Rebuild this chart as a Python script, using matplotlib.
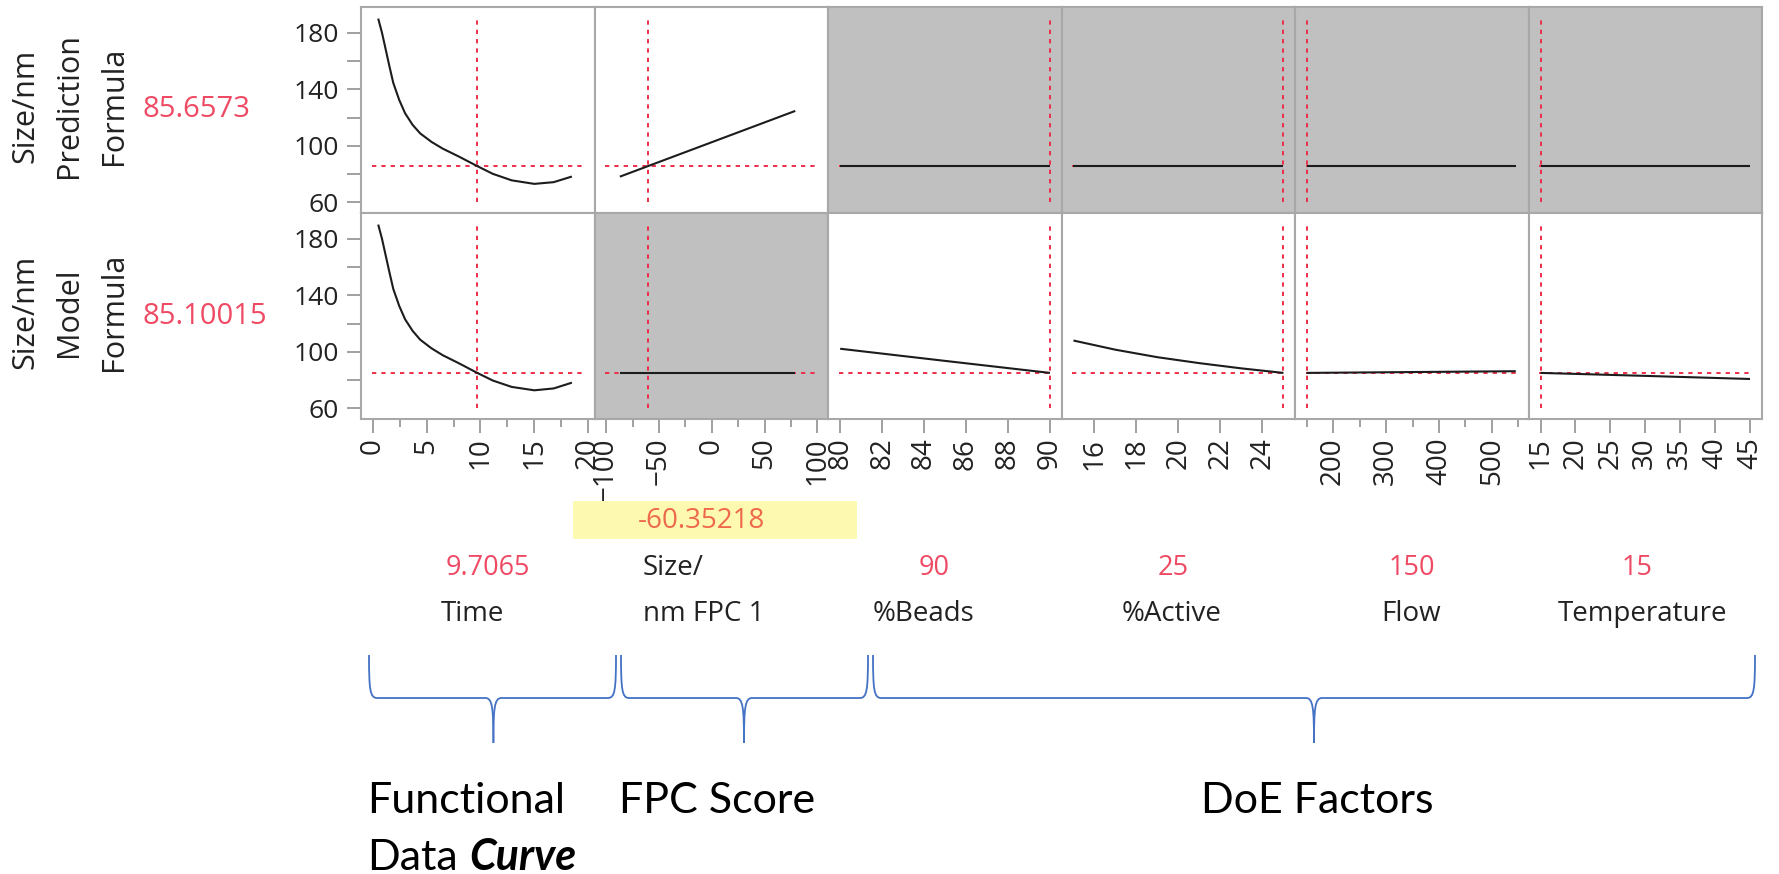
import matplotlib
matplotlib.use("Agg")
import matplotlib.pyplot as plt
from matplotlib.path import Path
from matplotlib.patches import PathPatch, Rectangle
from matplotlib.transforms import Affine2D

plt.rcParams["font.family"] = ["Open Sans", "DejaVu Sans"]

# ---------------- data ----------------
factor_names = ["Time", "Size/\nnm FPC 1", "%Beads", "%Active", "Flow", "Temperature"]
factor_current = [9.7065, -60.35218, 90, 25, 150, 15]
factor_current_text = ["9.7065", "-60.35218", "90", "25", "150", "15"]

response_names = ["Size/nm\nPrediction\nFormula", "Size/nm\nModel\nFormula"]
response_current = [85.6573, 85.10015]
response_current_text = ["85.6573", "85.10015"]

time_x = [0.5, 0.85, 1.2, 1.55, 1.9, 2.45, 3.0, 3.7, 4.4, 5.45, 6.5, 7.95,
          9.7065, 11.15, 12.9, 15.0, 16.8, 18.5]
time_pred = [190.0, 180.0, 168.0, 156.0, 144.5, 132.5, 123.0, 114.8, 108.8,
             102.8, 98.0, 92.6, 85.66, 80.2, 75.6, 73.1, 74.3, 78.3]
time_model = [190.0, 180.0, 168.0, 156.0, 144.5, 132.5, 123.0, 114.8, 108.6,
              102.5, 97.6, 92.1, 85.10, 79.7, 75.2, 72.8, 74.1, 78.2]

fpc_x = [-87, 79]
fpc_pred = [78.2, 124.7]
fpc_model = [85.10, 85.10]

beads_x = [80, 85, 90]
beads_pred = [85.66, 85.66, 85.66]
beads_model = [102.2, 93.6, 85.10]

active_x = [15, 17, 19, 21, 23, 25]
active_pred = [85.66, 85.66, 85.66, 85.66, 85.66, 85.66]
active_model = [108.0, 101.5, 96.2, 92.0, 88.3, 85.10]

flow_x = [150, 545]
flow_pred = [85.66, 85.66]
flow_model = [85.10, 86.3]

temp_x = [15, 30, 45]
temp_pred = [85.66, 85.66, 85.66]
temp_model = [85.10, 83.0, 80.8]

profile_x = [time_x, fpc_x, beads_x, active_x, flow_x, temp_x]
profile_y = [
    [time_pred, fpc_pred, beads_pred, active_pred, flow_pred, temp_pred],
    [time_model, fpc_model, beads_model, active_model, flow_model, temp_model],
]

# panels drawn with a grey background (row, column)
grey_cells = [(0, 2), (0, 3), (0, 4), (0, 5), (1, 1)]

x_major = [[0, 5, 10, 15, 20], [-100, -50, 0, 50, 100], [80, 82, 84, 86, 88, 90],
           [16, 18, 20, 22, 24], [200, 300, 400, 500], [15, 20, 25, 30, 35, 40, 45]]
x_minor = [[2.5, 7.5, 12.5, 17.5], [-75, -25, 25, 75], [], [],
           [150, 250, 350, 450, 550], []]
x_limits = [(-1.1, 20.6), (-111, 110), (79.42, 90.55), (14.43, 25.55),
            (128, 569), (13.28, 46.72)]
y_limits = (52.5, 198.2)
y_major = [60, 100, 140, 180]
y_minor = [80, 120, 160]

group_names = ["FPC Score", "DoE Factors"]

# ---------------- style ----------------
W, H = 1779, 874
RED = "#ec2f4b"
RED_TEXT = "#ef4a64"
GREY_FILL = "#c0c0c0"
FRAME = "#a8a8a8"
TICK = "#a0a0a0"
TEXT = "#222222"
BLUE = "#4472c4"

fig = plt.figure(figsize=(W / 100, H / 100), dpi=100)
# pixel coordinates measured from the top-left corner of the figure
px = Affine2D().scale(1 / W, -1 / H).translate(0, 1) + fig.transFigure

left0, col_w = 361, 233.5
top0, row_h = 7, 206

for r in range(2):
    for c in range(6):
        x0 = left0 + c * col_w
        ytop = top0 + r * row_h
        ax = fig.add_axes([x0 / W, 1 - (ytop + row_h) / H, col_w / W, row_h / H])
        ax.set_facecolor(GREY_FILL if (r, c) in grey_cells else "white")
        for s in ax.spines.values():
            s.set_color(FRAME)
            s.set_linewidth(1.5)
        ax.set_xlim(*x_limits[c])
        ax.set_ylim(*y_limits)

        ax.axhline(response_current[r], xmin=0.045, xmax=0.95, color=RED,
                   lw=1.4, linestyle=(0, (2.2, 2.6)), zorder=2)
        ax.axvline(factor_current[c], ymin=0.054, ymax=0.946, color=RED,
                   lw=1.4, linestyle=(0, (2.2, 2.6)), zorder=2)
        ax.plot(profile_x[c], profile_y[r][c], color="#1c1c1c", lw=1.5,
                solid_capstyle="butt", solid_joinstyle="round", zorder=3)

        if c == 0:
            ax.set_yticks(y_major)
            ax.set_yticks(y_minor, minor=True)
            ax.tick_params(axis="y", which="both", direction="out", length=10,
                           width=1.4, color=TICK, labelsize=19, labelcolor=TEXT,
                           pad=6)
        else:
            ax.set_yticks([])
        if r == 1:
            ax.set_xticks(x_major[c])
            ax.set_xticks(x_minor[c], minor=True)
            ax.tick_params(axis="x", which="major", direction="out", length=10,
                           width=1.4, color=TICK, labelsize=20, labelcolor=TEXT,
                           labelrotation=90, pad=3.5)
            ax.tick_params(axis="x", which="minor", direction="out", length=5.8,
                           width=1.4, color=TICK)
        else:
            ax.set_xticks([])

# response labels and current values on the left
label_cols = [25.4, 69.5, 113.6]
row_centres = [105.5, 312]
for r in range(2):
    for line, xc in zip(response_names[r].split("\n"), label_cols):
        fig.text(xc, row_centres[r], line, transform=px, rotation=90,
                 ha="center", va="center", fontsize=22, color=TEXT)
    fig.text(143, row_centres[r] + 4, response_current_text[r], transform=px,
             ha="left", va="center", fontsize=21, color=RED_TEXT)

# factor values and names below the axes
value_x = [488, None, 934, 1173, 1412, 1637]
name_x = [472, None, 924, 1172, 1411, 1642]
for c in range(6):
    if c == 1:
        continue
    fig.text(value_x[c], 568, factor_current_text[c], transform=px, ha="center",
             va="center", fontsize=19.5, color=RED_TEXT)
    fig.text(name_x[c], 614, factor_names[c], transform=px, ha="center",
             va="center", fontsize=20, color=TEXT)

# FPC score: editable value box and two-line name
fig.add_artist(Rectangle((573, 501), 284, 38, transform=px, facecolor="#fdf9b0",
                         edgecolor="none"))
fig.text(702, 521, factor_current_text[1], transform=px, ha="center", va="center",
         fontsize=20, color="#ee6a4a")
fpc_lines = factor_names[1].split("\n")
fig.text(643, 568, fpc_lines[0], transform=px, ha="left", va="center",
         fontsize=20, color=TEXT)
fig.text(643, 614, fpc_lines[1], transform=px, ha="left", va="center",
         fontsize=20, color=TEXT)


# curly braces grouping the factors
def brace(xl, xr, xt, y0, y1, y2):
    r = 8
    for xe, sgn in ((xl, 1), (xr, -1)):
        verts = [(xe, y0), (xe, y0 + 0.8 * (y1 - y0)), (xe + sgn * 1, y1),
                 (xe + sgn * r, y1), (xt - sgn * r, y1),
                 (xt - sgn * 1, y1), (xt, y1 + 10), (xt, y2)]
        codes = [Path.MOVETO, Path.CURVE4, Path.CURVE4, Path.CURVE4, Path.LINETO,
                 Path.CURVE4, Path.CURVE4, Path.CURVE4]
        fig.add_artist(PathPatch(Path(verts, codes), transform=px, fill=False,
                                 edgecolor=BLUE, lw=1.3))


brace(369, 616, 493.4, 655, 698, 743)
brace(621, 868, 744, 655, 698, 743)
brace(873, 1755, 1314, 655, 698, 743)

# group captions
cap_kw = dict(transform=px, ha="left", va="baseline", fontsize=31,
              family=["Lato", "DejaVu Sans"], color="black")
fig.text(367, 813, "Functional", **cap_kw)
t_data = fig.text(367, 870, "Data", **cap_kw)
fig.text(619, 813, group_names[0], **cap_kw)
fig.text(1201, 813, group_names[1], **cap_kw)
fig.canvas.draw()
bb = t_data.get_window_extent()
curve_kw = dict(cap_kw)
curve_kw.update(transform=fig.transFigure, fontweight="bold", fontstyle="italic")
fig.text((bb.x1 + 12) / W, 1 - 870 / H, "Curve", **curve_kw)

fig.savefig("out.png", dpi=100)
